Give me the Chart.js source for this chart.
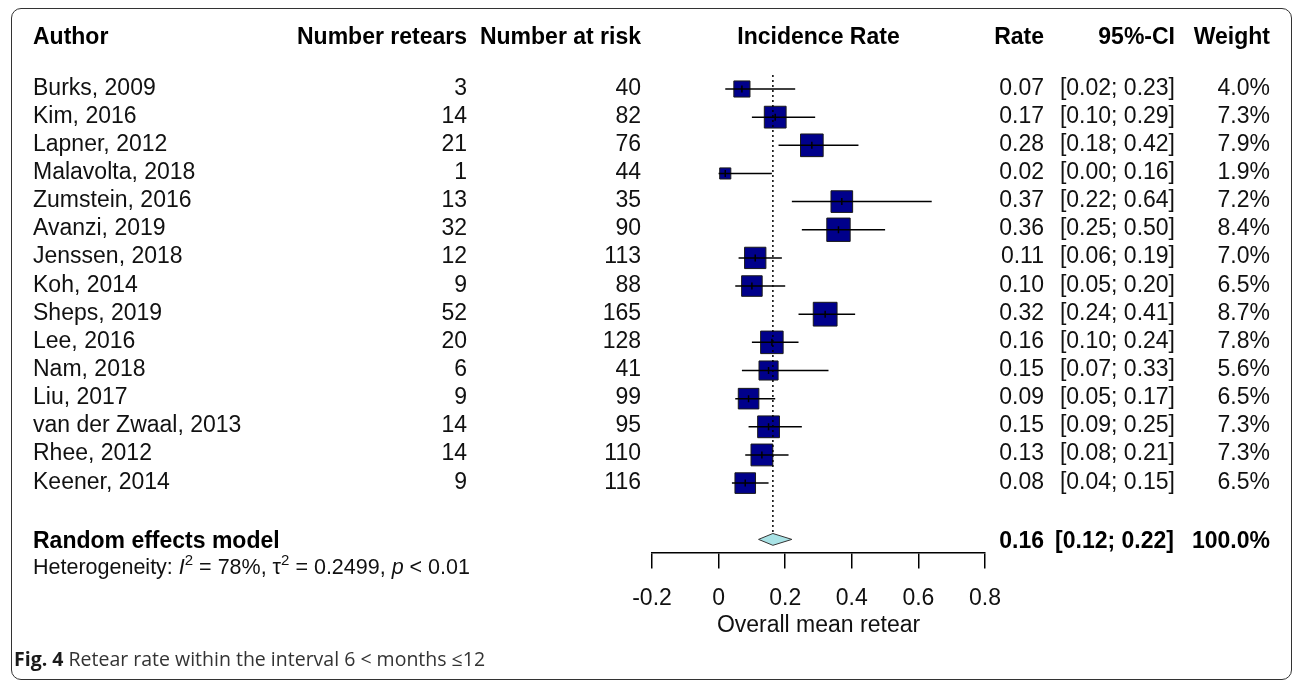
<!DOCTYPE html>
<html>
<head>
<meta charset="utf-8">
<title>Retear rate forest plot</title>
<script src="https://cdn.jsdelivr.net/npm/chart.js@4.4.1/dist/chart.umd.min.js"></script>
<style>
    html, body { margin: 0; padding: 0; background: #fff; }
    #wrap { position: relative; width: 1292px; height: 681px; overflow: hidden; }
    #frame {
        position: absolute; left: 11px; top: 8px; width: 1281px; height: 672px;
        border: 1.5px solid #333; border-radius: 10px; box-sizing: border-box;
    }
    #forest { position: absolute; left: 0; top: 0; }
    #caption {
        position: absolute; left: 14px; top: 645px;
        font-family: "Open Sans", "Noto Sans", sans-serif; font-size: 19.5px; color: #333;
        white-space: nowrap;
    }
    #caption b { color: #1a1a1a; }
</style>
</head>
<body>
<div id="wrap">
    <div id="frame"></div>
    <canvas id="forest" width="1292" height="681"></canvas>
    <div id="caption"><b>Fig. 4</b> Retear rate within the interval 6 &lt; months ≤12</div>
</div>

<script>
// study data
const authors = ['Burks, 2009', 'Kim, 2016', 'Lapner, 2012', 'Malavolta, 2018', 'Zumstein, 2016',
    'Avanzi, 2019', 'Jenssen, 2018', 'Koh, 2014', 'Sheps, 2019', 'Lee, 2016', 'Nam, 2018',
    'Liu, 2017', 'van der Zwaal, 2013', 'Rhee, 2012', 'Keener, 2014'];
const retears = [3, 14, 21, 1, 13, 32, 12, 9, 52, 20, 6, 9, 14, 14, 9];
const atRisk = [40, 82, 76, 44, 35, 90, 113, 88, 165, 128, 41, 99, 95, 110, 116];
const rates = [0.07, 0.17, 0.28, 0.02, 0.37, 0.36, 0.11, 0.10, 0.32, 0.16, 0.15, 0.09, 0.15, 0.13, 0.08];
const ciLow = [0.02, 0.10, 0.18, 0.00, 0.22, 0.25, 0.06, 0.05, 0.24, 0.10, 0.07, 0.05, 0.09, 0.08, 0.04];
const ciHigh = [0.23, 0.29, 0.42, 0.16, 0.64, 0.50, 0.19, 0.20, 0.41, 0.24, 0.33, 0.17, 0.25, 0.21, 0.15];
const weights = [4.0, 7.3, 7.9, 1.9, 7.2, 8.4, 7.0, 6.5, 8.7, 7.8, 5.6, 6.5, 7.3, 7.3, 6.5];

// random effects model: estimate, lower, upper, weight
const pooled = [0.163, 0.12, 0.22, 100.0];
const xTicks = [-0.2, 0, 0.2, 0.4, 0.6, 0.8];

const ROW_RE = 16;
const ROW_HET = 17.05;
const ROW_HEAD = -1.8;
const ROW_PX = 28.15;   // pixels per row
const FIRST_ROW_PX = 89;
const FONT = '"Liberation Sans", Arial, sans-serif';

// horizontal CI whiskers, one small dataset per study
const ciSets = authors.map((a, i) => ({
    type: 'scatter',
    showLine: true,
    data: [{ x: ciLow[i], y: i }, { x: ciHigh[i], y: i }],
    borderColor: '#000',
    borderWidth: 1.5,
    pointRadius: 0,
    order: 1
}));

const squares = {
    type: 'scatter',
    data: rates.map((r, i) => ({ x: r, y: i })),
    pointStyle: 'rect',
    pointRadius: weights.map(w => 5.7 * Math.sqrt(w)),
    backgroundColor: '#00008b',
    borderColor: '#1a1a1a',
    borderWidth: 1,
    order: 3
};

const centreMarks = {
    type: 'scatter',
    data: rates.map((r, i) => ({ x: r, y: i })),
    pointStyle: 'line',
    rotation: 90,
    pointRadius: 3.5,
    borderColor: '#000',
    borderWidth: 1.5,
    order: 0
};

const refLine = {
    type: 'scatter',
    showLine: true,
    data: [{ x: pooled[0], y: -0.5 }, { x: pooled[0], y: 15.75 }],
    borderColor: '#000',
    borderWidth: 1.5,
    borderDash: [2, 3],
    pointRadius: 0,
    order: 0
};

const diamond = {
    type: 'scatter',
    showLine: true,
    data: [
        { x: pooled[1], y: ROW_RE },
        { x: pooled[0], y: ROW_RE - 0.21 },
        { x: pooled[2], y: ROW_RE },
        { x: pooled[0], y: ROW_RE + 0.21 },
        { x: pooled[1], y: ROW_RE }
    ],
    borderColor: '#333',
    borderWidth: 1,
    backgroundColor: '#a9e3e6',
    fill: 'shape',
    pointRadius: 0,
    order: 2
};

// table columns and labels drawn next to the plot
const forestText = {
    id: 'forestText',
    afterDraw(chart) {
        const ctx = chart.ctx;
        const y = chart.scales.y;
        const x = chart.scales.x;
        const base = v => y.getPixelForValue(v) + 5.5;

        const put = (txt, px, py, align, weight) => {
            ctx.font = (weight || '') + ' 23px ' + FONT;
            ctx.textAlign = align;
            ctx.fillText(txt, px, py);
        };

        ctx.save();
        ctx.fillStyle = '#000';
        ctx.textBaseline = 'alphabetic';

        const hy = base(ROW_HEAD);
        put('Author', 33, hy, 'left', 'bold');
        put('Number retears', 467, hy, 'right', 'bold');
        put('Number at risk', 641, hy, 'right', 'bold');
        put('Incidence Rate', (x.left + x.right) / 2, hy, 'center', 'bold');
        put('Rate', 1044, hy, 'right', 'bold');
        put('95%-CI', 1175, hy, 'right', 'bold');
        put('Weight', 1270, hy, 'right', 'bold');

        ctx.fillStyle = '#111';
        authors.forEach((a, i) => {
            const ty = base(i);
            put(a, 33, ty, 'left');
            put(String(retears[i]), 467, ty, 'right');
            put(String(atRisk[i]), 641, ty, 'right');
            put(rates[i].toFixed(2), 1044, ty, 'right');
            put('[' + ciLow[i].toFixed(2) + '; ' + ciHigh[i].toFixed(2) + ']', 1175, ty, 'right');
            put(weights[i].toFixed(1) + '%', 1270, ty, 'right');
        });

        ctx.fillStyle = '#000';
        const ry = base(ROW_RE) + 3;
        put('Random effects model', 33, ry, 'left', 'bold');
        put(pooled[0].toFixed(2), 1044, ry, 'right', 'bold');
        put('[' + pooled[1].toFixed(2) + '; ' + pooled[2].toFixed(2) + ']', 1174, ry, 'right', 'bold');
        put(pooled[3].toFixed(1) + '%', 1270, ry, 'right', 'bold');

        // heterogeneity line with italics and superscripts
        const parts = [
            ['Heterogeneity: ', ''], ['I', 'italic'], ['2', 'sup'], [' = 78%, ', ''],
            ['\u03c4', ''], ['2', 'sup'], [' = 0.2499, ', ''], ['p', 'italic'], [' < 0.01', '']
        ];
        let cx = 33;
        const hty = base(ROW_HET);
        ctx.textAlign = 'left';
        ctx.fillStyle = '#111';
        parts.forEach(([txt, style]) => {
            if (style === 'sup') {
                ctx.font = '15px ' + FONT;
                ctx.fillText(txt, cx, hty - 9);
            } else {
                ctx.font = (style === 'italic' ? 'italic ' : '') + '21.5px ' + FONT;
                ctx.fillText(txt, cx, hty);
            }
            cx += ctx.measureText(txt).width;
        });

        // axis title
        put('Overall mean retear', (x.left + x.right) / 2, 632, 'center');
        ctx.restore();
    }
};

const ctx = document.getElementById('forest').getContext('2d');
const chart = new Chart(ctx, {
    type: 'scatter',
    data: {
        datasets: [...ciSets, squares, centreMarks, refLine, diamond]
    },
    options: {
        responsive: false,
        animation: false,
        devicePixelRatio: 1,
        layout: { padding: { left: 652, right: 307, top: 0, bottom: 0 } },
        plugins: {
            legend: { display: false },
            tooltip: { enabled: false }
        },
        scales: {
            x: {
                type: 'linear',
                min: -0.2,
                max: 0.8,
                position: { y: 16.48 },
                afterBuildTicks: axis => { axis.ticks = xTicks.map(v => ({ value: v })); },
                ticks: {
                    color: '#111',
                    font: { family: FONT, size: 23 },
                    padding: 17,
                    maxRotation: 0,
                    autoSkip: false,
                    callback: v => String(v)
                },
                grid: {
                    drawOnChartArea: false,
                    drawTicks: true,
                    tickLength: 15,
                    color: '#000',
                    lineWidth: 1.5
                },
                border: { display: true, color: '#000', width: 1.5 }
            },
            y: {
                type: 'linear',
                reverse: true,
                min: -3.16,
                max: 21.03,
                display: false
            }
        }
    },
    plugins: [forestText]
});

// fit the row scale to the real chart area so rows sit on a fixed pitch
const area = chart.chartArea;
const yMin = -(FIRST_ROW_PX - area.top) / ROW_PX;
chart.options.scales.y.min = yMin;
chart.options.scales.y.max = yMin + (area.bottom - area.top) / ROW_PX;
chart.update();
</script>
</body>
</html>
